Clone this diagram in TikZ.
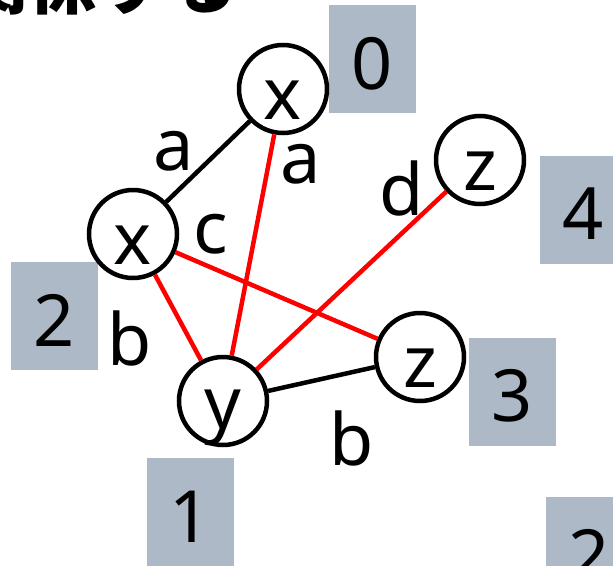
\documentclass[tikz,border=0pt]{standalone}
\usepackage{fontspec}
\setmainfont{Noto Sans}
\newfontfamily\cjk{Noto Sans CJK JP}
\definecolor{lblgray}{RGB}{173,185,199}
\newcommand\bigfnt{\fontsize{72}{80}\selectfont}
\tikzset{
  vtx/.style={circle, draw=black, line width=4.5pt, fill=white, minimum size=88pt,
    inner sep=0pt, font=\bigfnt, text height=60pt, text depth=0pt},
  idbox/.style={rectangle, fill=lblgray, minimum width=87pt, minimum height=108pt,
    inner sep=0pt, font=\bigfnt, text height=60pt, text depth=0pt},
  elab/.style={anchor=base, font=\bigfnt, inner sep=0pt},
  blkedge/.style={line width=4.5pt, black},
  rededge/.style={line width=4.5pt, red},
}
\begin{document}
\begin{tikzpicture}[x=1pt,y=-1pt]
\useasboundingbox (0,0) rectangle (613,565);
\fill[white] (0,0) rectangle (613,565);
% title (cut off at top)
\node (title) [anchor=base west, inner sep=0pt, font=\cjk\bfseries\fontsize{70}{80}\selectfont] at (-42,8) {関係する};
% id boxes
\node (b0) [idbox] at (372.5,59) {0};
\node (b4) [idbox] at (583.5,209.5) {4};
\node (b2) [idbox] at (54,316) {2};
\node (b3) [idbox] at (512.5,391.5) {3};
\node (b1) [idbox] at (190,512) {1};
\node (b2b) [idbox] at (589.5,551) {2};
% vertices
\node (x0) [vtx] at (283,89) {x};
\node (x2) [vtx] at (133,234) {x};
\node (z4) [vtx] at (480,160) {z};
\node (z3) [vtx] at (420,357) {z};
\node (y1) [vtx, text height=54pt] at (223,401) {y};
% edges
\draw[blkedge] (x0) -- (x2);
\draw[blkedge] (y1) -- (z3);
\draw[rededge] (x0) -- (y1);
\draw[rededge] (z4) -- (y1);
\draw[rededge] (x2) -- (z3);
\draw[rededge] (x2) -- (y1);
% edge labels
\node (la1) [elab] at (174,170) {a};
\node (la2) [elab] at (301,183) {a};
\node (ld) [elab] at (402,215) {d};
\node (lc) [elab] at (211,253) {c};
\node (lb1) [elab] at (130,365) {b};
\node (lb2) [elab] at (352,465) {b};
\end{tikzpicture}
\end{document}
